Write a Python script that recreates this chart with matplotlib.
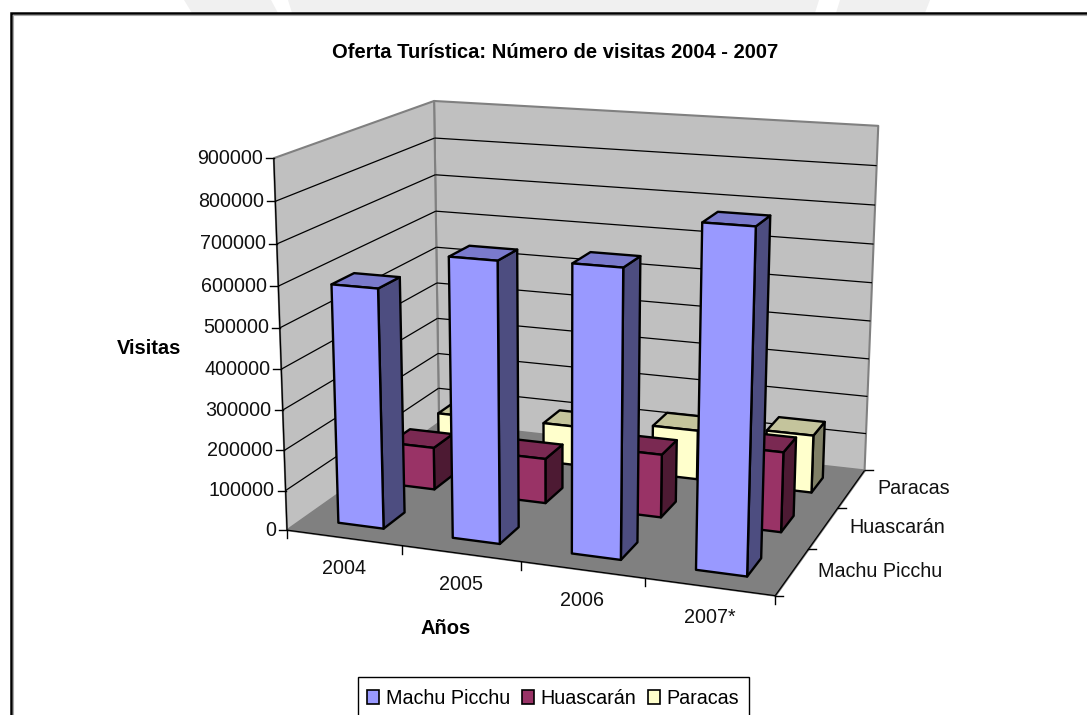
import numpy as np
import matplotlib
matplotlib.use('Agg')
import matplotlib.pyplot as plt
from matplotlib.lines import Line2D
from matplotlib.patches import Patch, Polygon, Rectangle
from matplotlib.transforms import Affine2D
from mpl_toolkits.mplot3d import proj3d
from mpl_toolkits.mplot3d.art3d import Line3DCollection, Poly3DCollection

plt.rcParams['font.family'] = ['Liberation Sans', 'DejaVu Sans']

years = ['2004', '2005', '2006', '2007*']
series = ['Machu Picchu', 'Huascarán', 'Paracas']
machu = [592000, 682000, 690000, 805000]
huascaran = [110000, 115000, 160000, 200000]
paracas = [100000, 105000, 130000, 150000]
values = [machu, huascaran, paracas]
z_ticks = list(range(0, 900001, 100000))

front_col = ['#9999FF', '#993366', '#FFFFCC']
top_col = ['#7A7ACC', '#7A2952', '#C4C49C']
side_col = ['#4D4D80', '#4D1A33', '#808066']

W, H = 1087, 715
ZMAX = 900000
NX, NY = len(years), len(series)

# where the box corners sit in the picture, used to fit the camera
camera_world = [(0, 0, 0), (0, 0, 1), (0, NY, 1), (0, NY, 0),
                (NX, NY, 1), (NX, NY, 0), (NX, 0, 0)]
camera_pixel = [(288, 530), (273, 158), (435, 101), (438, 423),
                (878, 126), (865, 470), (775, 596)]


def fit_camera(ax):
    # direct linear transform from box corners to the 2d coords of the axes
    ax.apply_aspect()
    inv = ax.transData.inverted()
    rows = []
    rhs = []
    for (x, y, z), (px_x, px_y) in zip(camera_world, camera_pixel):
        u, v = inv.transform((px_x, H - px_y))
        rows.append([x, y, z, 1, 0, 0, 0, 0, -u*x, -u*y, -u*z])
        rhs.append(u)
        rows.append([0, 0, 0, 0, x, y, z, 1, -v*x, -v*y, -v*z])
        rhs.append(v)
    p = np.linalg.lstsq(np.array(rows), np.array(rhs), rcond=None)[0]
    p = np.append(p, 1.0).reshape(3, 4)
    p[:, 2] /= ZMAX
    return np.array([p[0], p[1], [0, 1, 0, 0], p[2]])


fig = plt.figure(figsize=(W/100, H/100), dpi=100)
pix = Affine2D().scale(1, -1).translate(0, H)

# faint watermark above the frame
for pts in ([(184, 0), (271, 0), (278, 13), (192, 13)],
            [(288, 0), (819, 0), (815, 13), (292, 13)],
            [(840, 0), (930, 0), (925, 13), (836, 13)]):
    fig.add_artist(Polygon(pts, closed=True, fc='#F0F0F0', ec='none', transform=pix, zorder=-2))
# frame has no right or bottom edge inside the picture
fig.add_artist(Rectangle((11, 13), 1100, 720, fc='white', ec='black', lw=1.8,
                         transform=pix, zorder=-1))
fig.add_artist(Line2D([13, W], [15, 15], color='#A8A8A8', lw=0.8, transform=pix, zorder=-0.5))
fig.add_artist(Line2D([13, 13], [15, H], color='#A8A8A8', lw=0.8, transform=pix, zorder=-0.5))

# square 3d axes, big enough to hold the whole figure
ax = fig.add_axes([0, -(W - H)/2/H, 1, W/H], projection='3d', computed_zorder=False)
ax.set_axis_off()
ax.patch.set_alpha(0)
M = fit_camera(ax)
ax.get_proj = lambda: M
ax.M = M


def to_px(x, y, z):
    a, b, _ = proj3d.proj_transform(x, y, z, M)
    dx, dy = ax.transData.transform((a, b))
    return dx, H - dy


def add_faces(faces, fc, ec, lw, zorder):
    ax.add_collection3d(Poly3DCollection(faces, facecolors=fc, edgecolors=ec,
                                         linewidths=lw, zorder=zorder))


# walls and floor
add_faces([[(0, 0, 0), (0, NY, 0), (0, NY, ZMAX), (0, 0, ZMAX)],
           [(0, NY, 0), (NX, NY, 0), (NX, NY, ZMAX), (0, NY, ZMAX)]],
          '#C0C0C0', '#808080', 1.5, 1)
add_faces([[(0, 0, 0), (NX, 0, 0), (NX, NY, 0), (0, NY, 0)]], '#808080', '#808080', 1, 1.5)

# gridlines and axis lines
segs = []
for z in z_ticks[1:-1]:
    segs.append([(0, 0, z), (0, NY, z)])
    segs.append([(0, NY, z), (NX, NY, z)])
segs.append([(0, 0, 0), (0, 0, ZMAX)])
segs.append([(0, 0, 0), (NX, 0, 0)])
segs.append([(NX, 0, 0), (NX, NY, 0)])
ax.add_collection3d(Line3DCollection(segs, colors='black', linewidths=0.9, zorder=2))

# bars, back series first
gap = 0.3
for s in range(NY - 1, -1, -1):
    y0, y1 = s + gap, s + 1 - gap
    for c in range(NX):
        x0, x1 = c + gap, c + 1 - gap
        h = values[s][c]
        zo = 3 + (NY - s)*10 + c
        add_faces([[(x1, y0, 0), (x1, y1, 0), (x1, y1, h), (x1, y0, h)]], side_col[s], 'black', 1.7, zo)
        add_faces([[(x0, y0, h), (x1, y0, h), (x1, y1, h), (x0, y1, h)]], top_col[s], 'black', 1.7, zo)
        add_faces([[(x0, y0, 0), (x1, y0, 0), (x1, y0, h), (x0, y0, h)]], front_col[s], 'black', 1.7, zo)


def tick(x, y, z, dx, dy):
    a, b = to_px(x, y, z)
    fig.add_artist(Line2D([a, a + dx], [b, b + dy], color='black', lw=1, transform=pix))
    return a, b


for z in z_ticks:
    a, b = tick(0, 0, z, -8, 0)
    fig.text(a - 11, b, str(z), ha='right', va='center', fontsize=14.2, color='#111111', transform=pix)

for c in range(NX + 1):
    tick(c, 0, 0, 0, 8)
for c, lab in enumerate(years):
    a, b = to_px(c + 0.5, 0, 0)
    fig.text(a, b + 31, lab, ha='center', va='center', fontsize=14.2, color='#111111', transform=pix)

for s in range(NY + 1):
    tick(NX, s, 0, 8, 0)
for s, lab in enumerate(series):
    a, b = to_px(NX, s + 0.5, 0)
    fig.text(a + 26, b, lab, ha='left', va='center', fontsize=14.2, color='#111111', transform=pix)

fig.text(555, 52, 'Oferta Turística: Número de visitas 2004 - 2007', ha='center', va='center',
         fontsize=14.5, fontweight='bold', transform=pix)
fig.text(149, 348, 'Visitas', ha='center', va='center', fontsize=14.5, fontweight='bold', transform=pix)
fig.text(446, 628, 'Años', ha='center', va='center', fontsize=14.5, fontweight='bold', transform=pix)

# legend box runs off the bottom of the picture
fig.add_artist(Rectangle((358, 677), 391, 60, fc='white', ec='black', lw=1, transform=pix))
handles = [Patch(fc=front_col[i], ec='black', lw=1.2) for i in range(NY)]
fig.legend(handles, series, ncol=3, loc='upper left', bbox_to_anchor=(358/W, 1 - 680/H),
           fontsize=14.2, frameon=False, borderpad=0.45, borderaxespad=0,
           handlelength=0.6, handleheight=0.7, handletextpad=0.35, columnspacing=0.6)

fig.savefig('out.png', dpi=100)
